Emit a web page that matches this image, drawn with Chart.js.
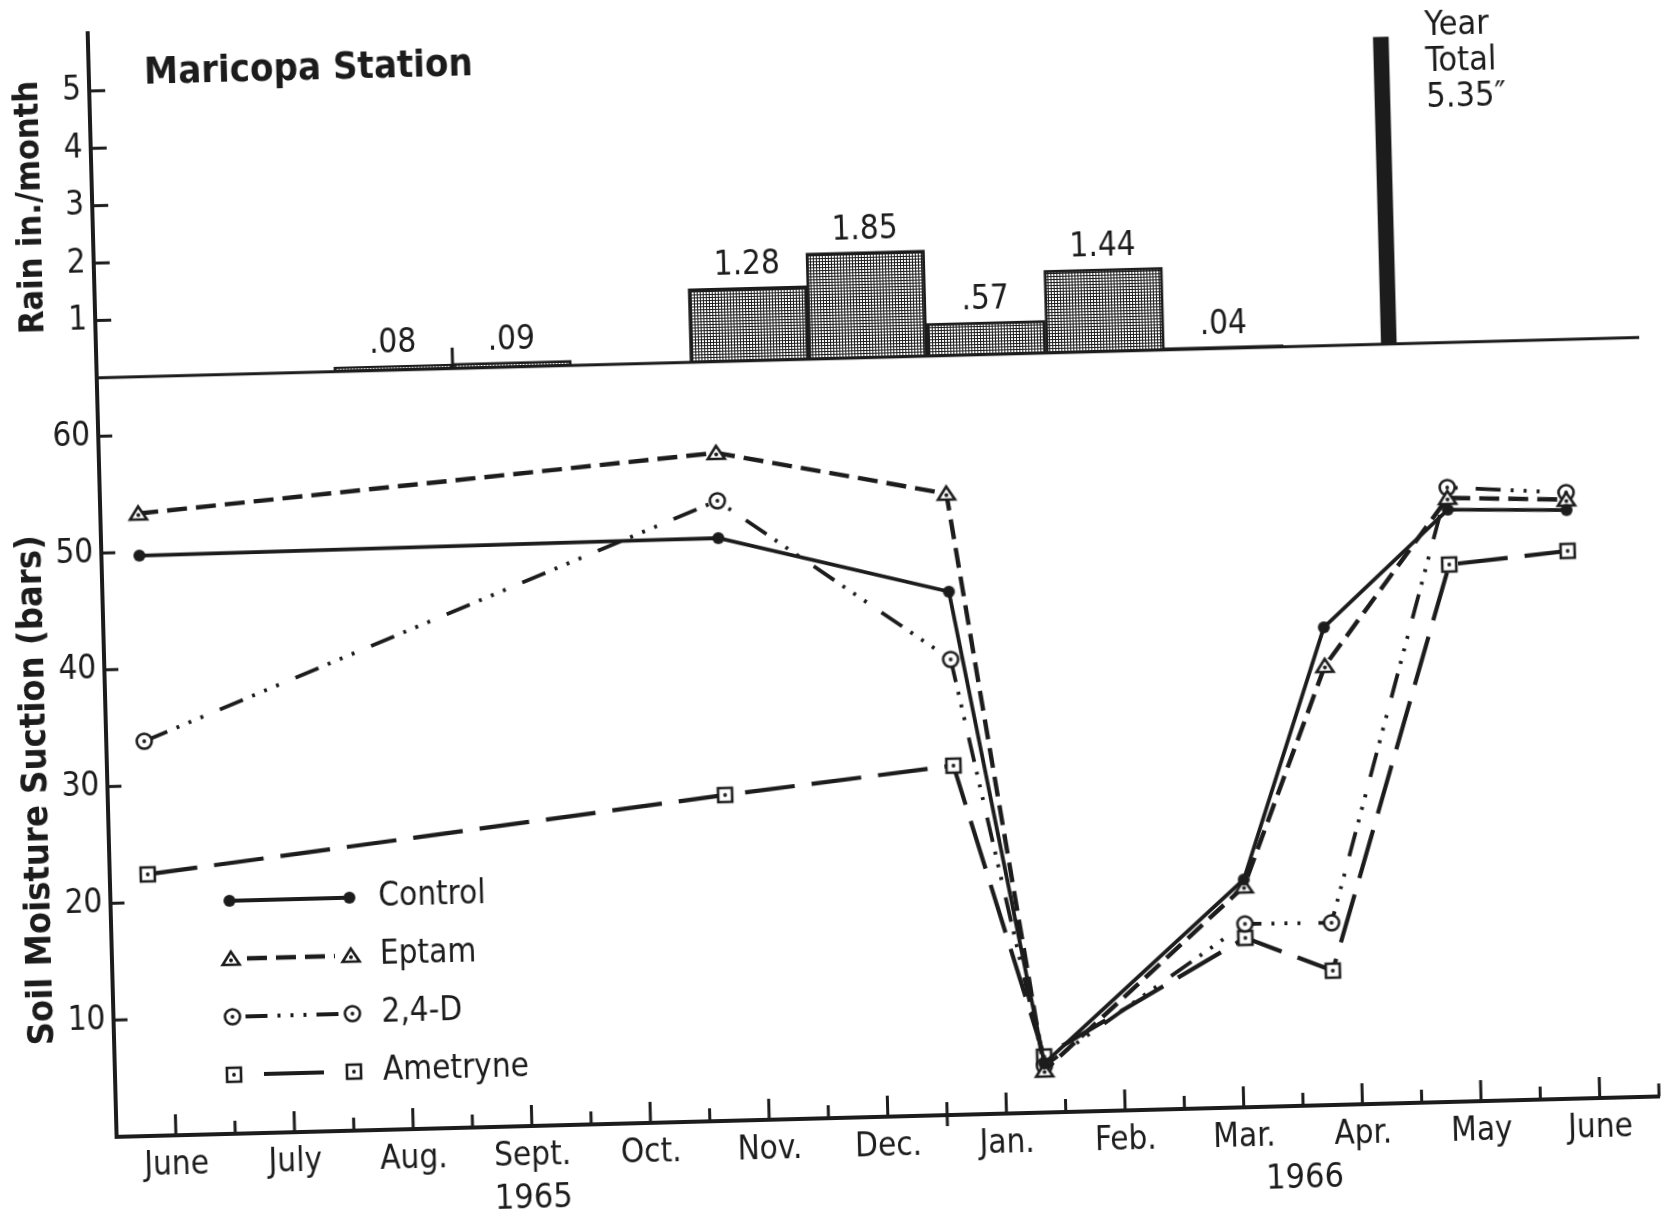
<!DOCTYPE html>
<html>
<head>
<meta charset="utf-8">
<title>Maricopa Station</title>
<script src="https://cdn.jsdelivr.net/npm/chart.js@4.4.1/dist/chart.umd.min.js"></script>
<style>
  html, body { margin: 0; padding: 0; background: #fff; overflow: hidden; }
  /* the scanned figure sits slightly askew on the page */
  #wrap { position: absolute; left: 0; top: 0; width: 1661px; height: 1217px;
          transform: rotate(-1.5deg); transform-origin: 830px 608px; }
</style>
</head>
<body>
<div id="wrap"><canvas id="chart" width="1661" height="1217"></canvas></div>
<script>
// time axis, month index 0 = June 1965
const monthLabels = ['June', 'July', 'Aug.', 'Sept.', 'Oct.', 'Nov.', 'Dec.', 'Jan.', 'Feb.', 'Mar.', 'Apr.', 'May', 'June'];
const yearLabels = ['1965', '1966'];
const yearAt = [3, 9.5];
const yearBreak = 6.5;

// monthly rain (in.)
const rainMonths = [2, 3, 5, 6, 7, 8, 9];
const rainValues = [0.08, 0.09, 1.28, 1.85, 0.57, 1.44, 0.04];
const yearTotalAt = [10.39];
const yearTotal = [5.35];

// soil moisture suction (bars) at each sampling date
const sampleMonths = [-0.18, 4.70, 6.63, 7.33, 9.05, 9.78, 10.85, 11.85];
const control  = [49.7, 49.9, 44.8, 4.2, 19.5, 40.9, 50.7, 50.4];
const eptam    = [53.3, 57.2, 53.2, 3.6, 18.9, 37.6, 51.7, 51.3];
const twoFourD = [33.8, 53.1, 39.0, 4.0, 15.7, 15.6, 52.6, 51.9];
const ametryne = [22.4, 27.9, 29.9, 4.8, 14.5, 11.5, 46.0, 46.9];

const rainTicks = [1, 2, 3, 4, 5];
const soilTicks = [10, 20, 30, 40, 50, 60];

const ink = '#1c1c1c';
const family = "'DejaVu Sans Condensed', 'DejaVu Sans', sans-serif";
const canvas = document.getElementById('chart');
const ctx = canvas.getContext('2d');

function makeMarker(kind) {
  const c = document.createElement('canvas');
  c.width = c.height = 24;
  const g = c.getContext('2d');
  const m = 12;
  g.strokeStyle = ink;
  g.fillStyle = ink;
  g.lineWidth = 2.6;
  g.beginPath();
  if (kind === 'dot') {
    g.arc(m, m, 6, 0, 2 * Math.PI);
    g.fill();
    return c;
  }
  if (kind === 'triangle') {
    g.moveTo(m, m - 7); g.lineTo(m + 8.5, m + 6); g.lineTo(m - 8.5, m + 6); g.closePath();
  } else if (kind === 'circle') {
    g.arc(m, m, 7.5, 0, 2 * Math.PI);
  } else {
    g.rect(m - 7, m - 7, 14, 14);
  }
  g.fillStyle = '#fff';
  g.fill();
  g.stroke();
  g.fillStyle = ink;
  g.beginPath();
  g.arc(m, kind === 'triangle' ? m + 1.5 : m, 1.9, 0, 2 * Math.PI);
  g.fill();
  return c;
}

function makeStipple() {
  const t = document.createElement('canvas');
  t.width = t.height = 3;
  const g = t.getContext('2d');
  g.fillStyle = '#fff';
  g.fillRect(0, 0, 3, 3);
  g.fillStyle = ink;
  g.fillRect(0, 0, 3, 1);
  g.fillRect(0, 0, 1, 3);
  return ctx.createPattern(t, 'repeat');
}

const series = [
  { label: 'Control',  values: control,  marker: makeMarker('dot'),      dash: [],                            width: 3.8, legendDash: [],                              inset: 4 },
  { label: 'Eptam',    values: eptam,    marker: makeMarker('triangle'), dash: [20, 9],                       width: 4.4, legendDash: [20, 9],                         inset: 16 },
  { label: '2,4-D',    values: twoFourD, marker: makeMarker('circle'),   dash: [25, 10, 3, 10, 3, 10, 3, 18], width: 3.8, legendDash: [22, 10, 3, 10, 3, 10, 3, 10, 22], inset: 13 },
  { label: 'Ametryne', values: ametryne, marker: makeMarker('square'),   dash: [50, 17],                      width: 4.2, legendDash: [],                              inset: 30 }
];

function line(c, x1, y1, x2, y2) {
  c.beginPath();
  c.moveTo(x1, y1);
  c.lineTo(x2, y2);
  c.stroke();
}

// keep tick labels from pushing the plot area around
function noPadding(s) {
  s.paddingTop = 0;
  s.paddingBottom = 0;
  s.paddingLeft = 0;
  s.paddingRight = 0;
}

const decorations = {
  id: 'decorations',
  afterDatasetsDraw(chart) {
    const { ctx, chartArea: a, scales: { x, yRain, ySoil } } = chart;
    ctx.save();
    ctx.strokeStyle = ink;
    ctx.lineWidth = 3;
    // zero line of the rain panel
    const base = yRain.getPixelForValue(0);
    line(ctx, a.left, base, a.right, base);
    // value ticks point into the plot
    rainTicks.forEach(v => {
      const y = yRain.getPixelForValue(v);
      line(ctx, a.left, y, a.left + 16, y);
    });
    soilTicks.forEach(v => {
      const y = ySoil.getPixelForValue(v);
      line(ctx, a.left, y, a.left + 14, y);
    });
    // month ticks, long at mid-month, short at month ends
    monthLabels.forEach((_, i) => {
      const px = x.getPixelForValue(i);
      line(ctx, px, a.bottom, px, a.bottom - 21);
      const mx = x.getPixelForValue(i + 0.5);
      if (i + 0.5 === yearBreak) {
        line(ctx, mx, a.bottom + 11, mx, a.bottom - 13);
      } else {
        line(ctx, mx, a.bottom, mx, a.bottom - 13);
      }
    });
    const bx = x.getPixelForValue(2.5);
    line(ctx, bx, base, bx, base - 21);
    ctx.restore();
  },
  afterDraw(chart) {
    const { ctx, chartArea: a, scales: { x, ySoil } } = chart;
    ctx.save();
    ctx.fillStyle = ink;

    ctx.font = 'bold 38px ' + family;
    ctx.textAlign = 'left';
    ctx.textBaseline = 'middle';
    ctx.fillText('Maricopa Station', x.getPixelForValue(0) - 4, a.top + 42);

    // soil axis title, set a little below the middle of its panel
    ctx.save();
    ctx.font = 'bold 36px ' + family;
    ctx.textAlign = 'center';
    ctx.translate(ySoil.left + 33, (ySoil.top + ySoil.bottom) / 2 + 31);
    ctx.rotate(-Math.PI / 2);
    ctx.fillText('Soil Moisture Suction (bars)', 0, 0);
    ctx.restore();

    ctx.font = '33px ' + family;
    ctx.textAlign = 'center';
    ctx.textBaseline = 'alphabetic';
    chart.getDatasetMeta(0).data.forEach((bar, i) => {
      const v = rainValues[i];
      const txt = v < 1 ? v.toFixed(2).slice(1) : v.toFixed(2);
      ctx.fillText(txt, bar.x, bar.y - 13);
    });

    const tb = chart.getDatasetMeta(1).data[0];
    ctx.font = '34px ' + family;
    ctx.textAlign = 'left';
    ctx.textBaseline = 'middle';
    ['Year', 'Total', yearTotal[0].toFixed(2) + '\u2033'].forEach((t, i) => {
      ctx.fillText(t, tb.x + 44, tb.y - 10 + i * 36);
    });

    ctx.font = '34px ' + family;
    ctx.textAlign = 'center';
    yearLabels.forEach((t, i) => {
      ctx.fillText(t, x.getPixelForValue(yearAt[i]), a.bottom + 73);
    });

    // legend
    ctx.font = '33px ' + family;
    const x0 = a.left + 119, x1 = a.left + 239, tx = a.left + 268;
    series.forEach((s, i) => {
      const y = ySoil.bottom - 233 + i * 58;
      ctx.strokeStyle = ink;
      ctx.lineWidth = s.width;
      ctx.setLineDash(s.legendDash);
      line(ctx, x0 + s.inset, y, x1 - s.inset, y);
      ctx.setLineDash([]);
      ctx.drawImage(s.marker, x0 - 12, y - 12);
      ctx.drawImage(s.marker, x1 - 12, y - 12);
      ctx.textAlign = 'left';
      ctx.textBaseline = 'middle';
      ctx.fillText(s.label, tx, y);
    });
    ctx.restore();
  }
};

const lineSets = series.map(s => ({
  type: 'line',
  label: s.label,
  data: sampleMonths.map((m, i) => ({ x: m, y: s.values[i] })),
  xAxisID: 'x',
  yAxisID: 'ySoil',
  borderColor: ink,
  borderWidth: s.width,
  borderDash: s.dash,
  borderCapStyle: 'butt',
  pointStyle: s.marker,
  pointRadius: 10,
  tension: 0,
  fill: false
}));

const font = { family: family, size: 33 };

new Chart(ctx, {
  type: 'line',
  data: {
    datasets: [
      {
        type: 'bar',
        label: 'Rain',
        data: rainMonths.map((m, i) => ({ x: m, y: rainValues[i] })),
        xAxisID: 'x',
        yAxisID: 'yRain',
        backgroundColor: makeStipple(),
        borderColor: ink,
        borderWidth: 3,
        borderSkipped: 'bottom',
        barPercentage: 1,
        categoryPercentage: 1,
        grouped: false
      },
      {
        type: 'bar',
        label: 'Year total',
        data: yearTotalAt.map((m, i) => ({ x: m, y: yearTotal[i] })),
        xAxisID: 'xTotal',
        yAxisID: 'yRain',
        backgroundColor: ink,
        barThickness: 15,
        grouped: false
      },
      ...lineSets
    ]
  },
  options: {
    responsive: false,
    animation: false,
    devicePixelRatio: 1,
    events: [],
    layout: { padding: { top: 11, right: 15, left: 0, bottom: 0 } },
    plugins: { legend: { display: false }, tooltip: { enabled: false } },
    scales: {
      x: {
        type: 'linear',
        position: 'bottom',
        offset: false,
        min: -0.5,
        max: 12.5,
        grid: { display: false, drawTicks: false, offset: false },
        border: { color: ink, width: 4 },
        afterBuildTicks: s => { s.ticks = monthLabels.map((_, i) => ({ value: i })); },
        afterFit: s => { s.height = 99; noPadding(s); },
        ticks: {
          autoSkip: false,
          maxRotation: 0,
          padding: 11,
          color: ink,
          font: font,
          callback: v => monthLabels[v]
        }
      },
      xTotal: {
        type: 'linear', min: -0.5, max: 12.5, offset: false, display: false,
        grid: { offset: false }, afterFit: noPadding
      },
      ySoil: {
        type: 'linear',
        position: 'left',
        stack: 'panels',
        stackWeight: 761.5,
        min: 0,
        max: 65,
        grid: { display: false, drawTicks: false },
        border: { color: ink, width: 4 },
        afterBuildTicks: s => { s.ticks = soilTicks.map(v => ({ value: v })); },
        afterFit: s => { s.width = 103; noPadding(s); },
        ticks: { padding: 8, color: ink, font: font }
      },
      yRain: {
        type: 'linear',
        position: 'left',
        stack: 'panels',
        stackWeight: 345.5,
        min: 0,
        max: 6,
        grid: { display: false, drawTicks: false },
        border: { color: ink, width: 4 },
        afterBuildTicks: s => { s.ticks = rainTicks.map(v => ({ value: v })); },
        afterFit: s => { s.width = 103; noPadding(s); },
        ticks: { padding: 8, color: ink, font: font },
        title: {
          display: true,
          text: 'Rain in./month',
          color: ink,
          font: { family: family, size: 34, weight: 'bold' },
          padding: { top: 22, bottom: 0 }
        }
      }
    }
  },
  plugins: [decorations]
});
</script>
</body>
</html>
